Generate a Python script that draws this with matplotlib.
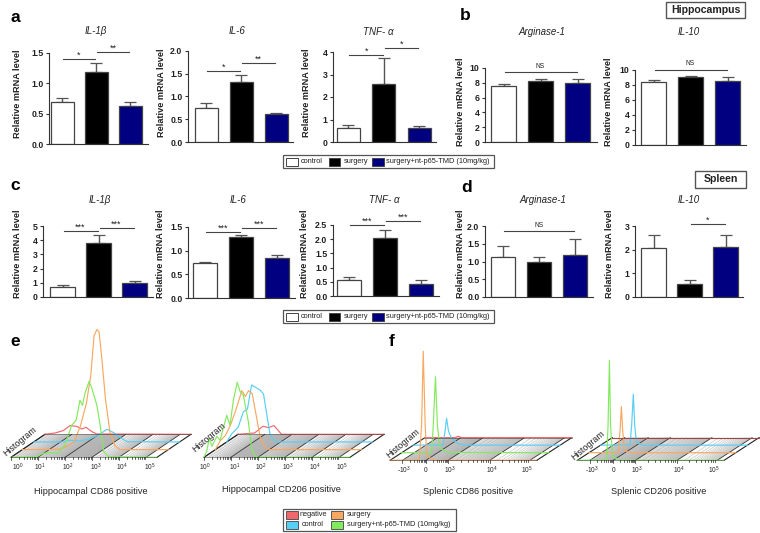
# plot.py - cytokine mRNA bars and flow cytometry histograms

import numpy as np
import matplotlib
matplotlib.use('Agg')
import matplotlib.pyplot as plt
from matplotlib.patches import Rectangle
from matplotlib.transforms import Affine2D

plt.rcParams['font.family'] = ['Liberation Sans', 'DejaVu Sans']
plt.rcParams['mathtext.default'] = 'regular'

W, H = 760, 533
TEXT = '#222222'
EDGE = '#444444'
BAR_COLORS = ['white', 'black', '#000080']

# bar values (mean, top of error bar)
a1_mean = [0.69, 1.18, 0.62]
a1_top = [0.76, 1.33, 0.69]
a2_mean = [0.75, 1.31, 0.61]
a2_top = [0.85, 1.47, 0.63]
a3_mean = [0.63, 2.60, 0.62]
a3_top = [0.75, 3.72, 0.72]
b1_mean = [7.6, 8.2, 8.0]
b1_top = [7.85, 8.45, 8.45]
b2_mean = [8.4, 8.95, 8.5]
b2_top = [8.6, 9.2, 9.0]
c1_mean = [0.73, 3.82, 1.0]
c1_top = [0.85, 4.35, 1.12]
c2_mean = [0.74, 1.28, 0.85]
c2_top = [0.77, 1.33, 0.91]
c3_mean = [0.58, 2.04, 0.43]
c3_top = [0.68, 2.34, 0.58]
d1_mean = [1.12, 1.0, 1.18]
d1_top = [1.44, 1.13, 1.63]
d2_mean = [2.05, 0.55, 2.12]
d2_top = [2.6, 0.72, 2.6]

# significance brackets: (from bar, to bar, level, label)
a1_sig = [(0, 1, 1.40, '*'), (1, 2, 1.52, '**')]
a2_sig = [(0, 1, 1.57, '*'), (1, 2, 1.73, '**')]
a3_sig = [(0, 1, 3.87, '*'), (1, 2, 4.16, '*')]
b1_sig = [(0, 2, 9.4, 'NS')]
b2_sig = [(0, 2, 10.0, 'NS')]
c1_sig = [(0, 1, 4.62, '***'), (1, 2, 4.86, '***')]
c2_sig = [(0, 1, 1.40, '***'), (1, 2, 1.47, '***')]
c3_sig = [(0, 1, 2.51, '***'), (1, 2, 2.63, '***')]
d1_sig = [(0, 2, 1.85, 'NS')]
d2_sig = [(1, 2, 3.07, '*')]

a1_ticks = ['0.0', '0.5', '1.0', '1.5']
a2_ticks = ['0.0', '0.5', '1.0', '1.5', '2.0']
a3_ticks = ['0', '1', '2', '3', '4']
b_ticks = ['0', '2', '4', '6', '8', '10']
c1_ticks = ['0', '1', '2', '3', '4', '5']
c2_ticks = ['0.0', '0.5', '1.0', '1.5']
c3_ticks = ['0.0', '0.5', '1.0', '1.5', '2.0', '2.5']
d1_ticks = ['0.0', '0.5', '1.0', '1.5', '2.0']
d2_ticks = ['0', '1', '2', '3']

# histogram traces: position along the axis (decades) and height
e1_red_x = [0, .36, .66, .9, 1.14, 1.33, 1.48, 1.69, 1.87, 5.27]
e1_red_y = [0, 1.3, 3.7, 8.7, 8, 5.3, 7, 2.7, .3, 0]
e1_cyan_x = [0, 1.02, 1.27, 1.63, 1.99, 2.35, 2.65, 2.89, 3.13, 3.37, 5.27]
e1_cyan_y = [0, 0, 1.7, 1, 2.7, 7, 12.7, 9.3, 4.3, .3, 0]
e1_orange_x = [0, 1.33, 1.57, 1.87, 2.1, 2.31, 2.47, 2.59, 2.69, 2.77, 2.87, 3.0, 3.16, 3.34, 3.52, 5.27]
e1_orange_y = [0, .3, 2.7, 7.7, 24, 46, 74, 114, 120, 118, 91, 51, 18, 4, 0, 0]
e1_green_x = [0, .93, 1.16, 1.71, 1.95, 2.19, 2.35, 2.49, 2.58, 2.67, 2.82, 2.92, 3.1, 3.22, 3.34, 3.52, 5.27]
e1_green_y = [0, .7, 4, 4.7, 12, 32, 37, 57, 52, 64, 76, 69, 52, 32, 6, .7, 0]

e2_red_x = [0, .6, .9, 1.11, 1.3, 1.57, 5.27]
e2_red_y = [0, 1.3, 8, 6.7, 8.7, 0, 0]
e2_cyan_x = [0, .18, .42, .6, .75, .9, 1.02, 1.2, 1.33, 1.45, 1.57, 1.75, 5.27]
e2_cyan_y = [0, 8, 15, 30, 33, 57, 55, 52, 48, 27, 7, 0, 0]
e2_orange_x = [0, .18, .36, .54, .72, .96, 1.08, 1.2, 1.33, 1.45, 1.63, 1.81, 1.99, 5.27]
e2_orange_y = [0, 9, 14, 24, 38, 59, 53, 59, 56, 38, 11, 1.7, 0, 0]
e2_green_x = [0, .1, .19, .29, .46, .58, .82, .94, 1.06, 1.2, 1.3, 1.42, 1.6, 1.72, 1.84, 1.96, 5.27]
e2_green_y = [0, 6.3, 19, 11, 21, 17, 42, 32, 57, 75, 66, 62, 36, 9, .7, 0, 0]

f1_red_x = [0, 1.08, 1.2, 1.33, 5.3]
f1_red_y = [0, 0, 1.3, 0, 0]
f1_cyan_x = [0, 1.08, 1.14, 1.2, 1.27, 1.39, 1.63, 1.93, 5.3]
f1_cyan_y = [0, .3, 13, 27, 14, 6.3, 1.3, 0, 0]
f1_green_x = [0, 1.08, 1.14, 1.22, 1.29, 1.39, 1.69, 5.3]
f1_green_y = [0, .3, 27, 76, 27, 4, .3, 0]
f1_orange_x = [0, 1.06, 1.14, 1.2, 1.27, 1.33, 1.63, 5.3]
f1_orange_y = [0, .3, 35, 109, 35, 3.7, 0, 0]

f2_red_x = [0, 5.3]
f2_red_y = [0, 0]
f2_cyan_x = [0, 1.06, 1.12, 1.18, 1.23, 1.29, 1.51, 5.3]
f2_cyan_y = [0, .3, 20, 51, 20, 3, 0, 0]
f2_orange_x = [0, 1.06, 1.12, 1.17, 1.22, 1.28, 1.48, 5.3]
f2_orange_y = [0, .3, 21, 46, 21, 2.3, 0, 0]
f2_green_x = [0, 1.06, 1.11, 1.16, 1.2, 1.27, 1.54, 5.3]
f2_green_y = [0, .3, 35, 100, 35, 3.7, 0, 0]

RED = '#f0686c'
CYAN = '#58cff5'
ORANGE = '#f8a860'
GREEN = '#82ea5e'

fig = plt.figure(figsize=(W / 100, H / 100), dpi=100)

# whole-figure axes in pixel units for the free text, boxes and 3D-looking histograms
page = fig.add_axes([0, 0, 1, 1], zorder=5)
page.set_xlim(0, W)
page.set_ylim(H, 0)
page.axis('off')


def bar_panel(mean, top, sig, ticks, x0, x1, first, step, width, y0, ytop, label_x, label_y):
	"""one bar chart, x0/x1/y0/ytop are pixels of the axis frame"""
	ax = fig.add_axes([x0 / W, 1 - y0 / H, (x1 - x0) / W, (y0 - ytop) / H])
	pos = [first + i * step for i in range(3)]
	vals = [float(t) for t in ticks]
	ax.set_xlim(x0, x1)
	ax.set_ylim(vals[0], vals[-1])
	ax.bar(pos, mean, width=width, color=BAR_COLORS, edgecolor=EDGE, linewidth=0.9, zorder=2)
	errs = np.array(top) - np.array(mean)
	ax.errorbar(pos, mean, yerr=[np.zeros(3), errs], fmt='none', ecolor='#555555',
		elinewidth=1.0, capsize=4.2, capthick=0.9, zorder=1)
	for a, b, level, star in sig:
		ax.plot([pos[a] + 1, pos[b] - 1], [level, level], color='#444444', lw=0.8, clip_on=False)
		size = 4.8 if star == 'NS' else 6.5
		off = 1.5 if star == 'NS' else -0.5
		ax.annotate(star, ((pos[a] + pos[b]) / 2, level), xytext=(0, off), textcoords='offset points',
			ha='center', va='bottom', fontsize=size, color=TEXT, annotation_clip=False)
	for side in ['top', 'right']:
		ax.spines[side].set_visible(False)
	for side in ['left', 'bottom']:
		ax.spines[side].set_color('#333333')
		ax.spines[side].set_linewidth(0.8)
	ax.set_xticks([])
	ax.set_yticks(vals)
	ax.set_yticklabels(ticks, fontsize=6.3, fontweight='bold', color=TEXT)
	ax.tick_params(axis='y', length=2.5, width=0.8, pad=1.5, color='#333333')
	ax.set_ylabel('Relative mRNA level', fontsize=6.6, fontweight='bold', color=TEXT)
	ax.yaxis.set_label_coords(label_x, label_y, transform=page.transData)


bar_panel(a1_mean, a1_top, a1_sig, a1_ticks, 49, 148, 62, 34, 23, 144, 53, 22, 94)
bar_panel(a2_mean, a2_top, a2_sig, a2_ticks, 188, 293, 206, 35, 23, 142, 51, 166, 93)
bar_panel(a3_mean, a3_top, a3_sig, a3_ticks, 333, 436, 348.5, 35.5, 23, 142, 52, 311, 93)
bar_panel(b1_mean, b1_top, b1_sig, b_ticks, 485, 597, 503.5, 37, 25, 142, 68, 465, 102)
bar_panel(b2_mean, b2_top, b2_sig, b_ticks, 635, 746, 653.5, 37, 25, 144.5, 69.5, 613, 102)
bar_panel(c1_mean, c1_top, c1_sig, c1_ticks, 43, 153, 62.5, 36, 25, 297, 226, 22, 254)
bar_panel(c2_mean, c2_top, c2_sig, c2_ticks, 188, 295, 205, 36, 24, 298, 227, 165, 254)
bar_panel(c3_mean, c3_top, c3_sig, c3_ticks, 333, 439, 349, 36, 24, 296, 225, 309, 254)
bar_panel(d1_mean, d1_top, d1_sig, d1_ticks, 485, 593, 503, 36, 24, 297, 226, 465, 254)
bar_panel(d2_mean, d2_top, d2_sig, d2_ticks, 635, 743, 653.5, 36, 25, 297, 226, 614, 254)

# gene titles
for x, y, s in [(96, 31, 'IL-1β'), (237, 31, 'IL-6'), (378, 32, 'TNF- α'), (542, 32, 'Arginase-1'), (689, 32, 'IL-10'),
		(100, 200, 'IL-1β'), (238, 200, 'IL-6'), (384, 200, 'TNF- α'), (543, 200, 'Arginase-1'), (689, 200, 'IL-10')]:
	page.text(x, y, s, ha='center', va='center', fontsize=7, style='italic', color=TEXT)

# panel letters
for x, y, s in [(15, 17, 'a'), (465, 16, 'b'), (15, 185, 'c'), (467, 187, 'd'), (15, 341, 'e'), (392, 341, 'f')]:
	page.text(x, y, s, ha='center', va='center', fontsize=12.5, fontweight='bold', color='black')

# tissue boxes
for x, y, w, h, s in [(666, 2, 79, 16, 'Hippocampus'), (695, 171, 51, 17, 'Spleen')]:
	page.add_patch(Rectangle((x, y), w, h, fc='white', ec='#555555', lw=1.0))
	page.text(x + w / 2, y + h / 2, s, ha='center', va='center', fontsize=7.6, fontweight='bold', color=TEXT)


def group_legend(y):
	page.add_patch(Rectangle((283, y), 211, 13, fc='white', ec='#555555', lw=0.9))
	for x, c in zip([286, 328.5, 372], BAR_COLORS):
		page.add_patch(Rectangle((x, y + 2.5), 11.5, 8, fc=c, ec=EDGE, lw=0.7))
	for x, s in [(301, 'control'), (344, 'surgery'), (386, 'surgery+nt-p65-TMD (10mg/kg)')]:
		page.text(x, y + 6.5, s, va='center', fontsize=5.35, color=TEXT)


group_legend(155)
group_legend(310)


def histogram(x0, y0, depth_x, depth_y, traces, floor_major, greys, ticks, hist_xy, end):
	"""floor of the fake 3D plot, then the traces from back to front"""
	sx = 27.7
	floor = Affine2D.from_values(sx, 0, depth_x, -depth_y, x0, y0) + page.transData
	# grey bands and log grid lines between each pair of major lines
	for (a, b), grey in zip(zip(floor_major[:-1], floor_major[1:]), greys):
		page.fill([a, b, b, a], [0, 0, 1, 1], transform=floor, color='#a0a0a0', alpha=grey, lw=0)
		for f in np.arange(1.5, 10, 0.5):
			g = a + (b - a) * np.log10(f)
			page.plot([g, g], [0, 1], transform=floor, color='#b0b0b0', lw=0.3, solid_capstyle='butt')
	for g in floor_major:
		page.plot([g, g], [0, 1], transform=floor, color='#333333', lw=0.6)
	page.plot([0, 0], [0, 1], transform=floor, color='#222222', lw=0.8)
	page.plot([end, end], [0, 1], transform=floor, color='#222222', lw=0.8)

	for k, (xs, ys, c) in enumerate(traces):
		layer = 3 - k
		tr = Affine2D.from_values(sx, 0, 0, -1, x0 + layer * depth_x / 3, y0 - layer * depth_y / 3) + page.transData
		page.plot(xs, ys, transform=tr, color=c, lw=0.85, solid_joinstyle='round')

	# front and back edges stay dark under the coloured base lines
	page.plot([0, end], [0, 0], transform=floor, color='#222222', lw=0.7, alpha=0.45)
	page.plot([0, end], [1, 1], transform=floor, color='#222222', lw=0.7, alpha=0.45)

	# tick marks on the front edge
	for a, b in zip(floor_major[:-1], floor_major[1:]):
		for f in range(1, 10):
			g = a + (b - a) * np.log10(f)
			size = 3 if f == 1 else 1.6
			px = x0 + sx * g
			page.plot([px, px], [y0, y0 + size], color='#222222', lw=0.5)
	for g, s, dy in ticks:
		page.text(x0 + sx * g, y0 + dy, s, ha='center', va='center', fontsize=4.8, color=TEXT)
	page.text(hist_xy[0], hist_xy[1], 'Histogram', rotation=40, ha='center', va='center',
		rotation_mode='anchor', fontsize=6.4, color=TEXT)


e_major = [0, 0.97, 1.95, 2.92, 3.9, 4.88]
e1_greys = [0.3, 0.5, 0.75, 0.2, 0.05]
e2_greys = [0.2, 0.75, 0.5, 0.2, 0.05]
e1_labels = [(.25, '10$^{0}$', 10), (1.05, '10$^{1}$', 10), (2.05, '10$^{2}$', 10),
	(3.05, '10$^{3}$', 10), (4.02, '10$^{4}$', 10), (5.02, '10$^{5}$', 10)]
e2_labels = [(.02, '10$^{0}$', 10), (1.1, '10$^{1}$', 10), (2.05, '10$^{2}$', 10),
	(3.02, '10$^{3}$', 10), (4.0, '10$^{4}$', 10), (4.97, '10$^{5}$', 10)]
f_major = [0.45, 1.3, 2.1, 3.6, 5.05]
f_greys = [0.55, 0.6, 0.4, 0.05]
f_labels = [(.52, '-10$^{3}$', 10.5), (1.3, '0', 10.5), (2.15, '10$^{3}$', 10.5),
	(3.67, '10$^{4}$', 10.5), (4.95, '10$^{5}$', 10.5)]

histogram(11, 457.3, 34, 23, [(e1_red_x, e1_red_y, RED), (e1_cyan_x, e1_cyan_y, CYAN),
	(e1_orange_x, e1_orange_y, ORANGE), (e1_green_x, e1_green_y, GREEN)],
	e_major, e1_greys, e1_labels, (20, 441), 5.27)
histogram(204, 457.3, 34, 23, [(e2_red_x, e2_red_y, RED), (e2_cyan_x, e2_cyan_y, CYAN),
	(e2_orange_x, e2_orange_y, ORANGE), (e2_green_x, e2_green_y, GREEN)],
	e_major, e2_greys, e2_labels, (209, 437), 5.27)
histogram(390, 460.3, 35, 22.7, [(f1_red_x, f1_red_y, RED), (f1_cyan_x, f1_cyan_y, CYAN),
	(f1_green_x, f1_green_y, GREEN), (f1_orange_x, f1_orange_y, ORANGE)],
	f_major, f_greys, f_labels, (403, 443), 5.3)
histogram(577.3, 460.3, 35, 22.7, [(f2_red_x, f2_red_y, RED), (f2_cyan_x, f2_cyan_y, CYAN),
	(f2_orange_x, f2_orange_y, ORANGE), (f2_green_x, f2_green_y, GREEN)],
	f_major, f_greys, f_labels, (588, 445), 5.3)

# captions under the histograms
for x, y, s in [(91, 492, 'Hippocampal CD86 positive'), (281, 490, 'Hippocampal CD206 positive'),
		(468, 492, 'Splenic CD86 positive'), (659, 491, 'Splenic CD206 positive')]:
	page.text(x, y, s, ha='center', va='center', fontsize=6.6, color=TEXT)

# histogram legend
page.add_patch(Rectangle((283, 509), 173, 22, fc='white', ec='#555555', lw=0.9))
for x, y, c in [(285.5, 511, RED), (285.5, 521, CYAN), (331, 511, ORANGE), (331, 521, GREEN)]:
	page.add_patch(Rectangle((x, y), 12, 7.5, fc=c, ec=EDGE, lw=0.6))
for x, y, s in [(300, 515, 'negative'), (302, 525, 'control'), (347, 515, 'surgery'),
		(347, 525, 'surgery+nt-p65-TMD (10mg/kg)')]:
	page.text(x, y, s, va='center', fontsize=5.35, color=TEXT)

plt.savefig('out.png', dpi=100)
plt.close()
